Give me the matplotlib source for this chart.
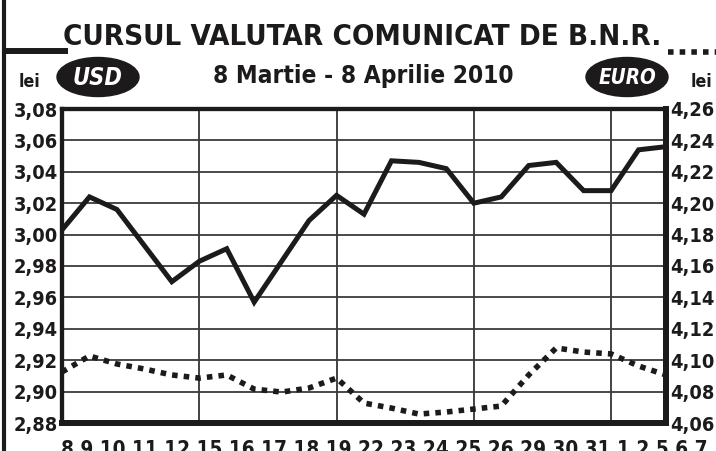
"""
BNR exchange rate chart (USD / EURO), 8 Martie - 8 Aprilie 2010.
"""
import os
import matplotlib
matplotlib.use("Agg")
import matplotlib.pyplot as plt
import matplotlib.font_manager as fm
from matplotlib.patches import Ellipse

# trading days shown on the x axis
day_labels = ["8", "9", "10", "11", "12", "15", "16", "17", "18", "19", "22", "23",
              "24", "25", "26", "29", "30", "31", "1", "2", "5", "6", "7"]
week_starts = ["15", "22", "29", "5"]

# lei per USD (left axis, solid line)
usd = [3.003, 3.024, 3.016, 2.993, 2.970, 2.983, 2.991, 2.957, 2.983, 3.009, 3.025,
       3.013, 3.047, 3.046, 3.042, 3.020, 3.024, 3.044, 3.046, 3.028, 3.028, 3.054, 3.056]

# lei per EURO (right axis, dotted line)
eur = [4.0925, 4.1027, 4.0976, 4.0944, 4.0906, 4.0886, 4.0906, 4.0816, 4.0797, 4.0823,
       4.0886, 4.0727, 4.0695, 4.0657, 4.0670, 4.0689, 4.0708, 4.0906, 4.1078, 4.1052,
       4.1040, 4.0963, 4.0906]

usd_ticks = [2.88, 2.90, 2.92, 2.94, 2.96, 2.98, 3.00, 3.02, 3.04, 3.06, 3.08]
eur_ticks = [4.06, 4.08, 4.10, 4.12, 4.14, 4.16, 4.18, 4.20, 4.22, 4.24, 4.26]

INK = "#1c1a1a"


def pick_font(names):
    # the print original uses a bold condensed grotesque, take the closest one installed
    for name in names:
        for f in fm.fontManager.ttflist:
            if os.path.basename(f.fname) == name:
                return fm.FontProperties(fname=f.fname)
    return None


bold = pick_font(["LiberationSansNarrow-Bold.ttf", "DejaVuSansCondensed-Bold.ttf",
                  "LiberationSans-Bold.ttf"]) or fm.FontProperties(weight="bold")
bold_it = pick_font(["LiberationSansNarrow-BoldItalic.ttf",
                     "DejaVuSansCondensed-BoldOblique.ttf",
                     "LiberationSans-BoldItalic.ttf"]) or fm.FontProperties(weight="bold",
                                                                            style="italic")


def comma(v):
    return f"{v:.2f}".replace(".", ",")


fig = plt.figure(figsize=(7.16, 4.51), dpi=100)
W, H = 716, 451
renderer = fig.canvas.get_renderer()


def fit(t, width):
    """Scale a text's size so that it spans the given width in pixels."""
    w = t.get_window_extent(renderer).width
    t.set_fontsize(t.get_fontsize() * width / w)
    return t


ax = fig.add_axes([62 / W, 1 - 423 / H, (666 - 62) / W, (423 - 109) / H])
x = list(range(len(day_labels)))

ax.set_xlim(0, len(day_labels) - 1)
ax.set_ylim(usd_ticks[0], usd_ticks[-1])
ax.set_yticks(usd_ticks)
ax.set_yticklabels([comma(v) for v in usd_ticks])
ax.set_xticks([])
ax.grid(axis="y", color="#3a3a3a", linewidth=1.3)
for d in week_starts:
    ax.axvline(day_labels.index(d), color="#111111", linewidth=1.1, zorder=1)

ax.plot(x, usd, color=INK, linewidth=3.6, solid_joinstyle="miter", zorder=3)

ax2 = ax.twinx()
ax2.set_ylim(eur_ticks[0], eur_ticks[-1])
ax2.set_yticks(eur_ticks)
ax2.set_yticklabels([comma(v) for v in eur_ticks])
ax2.plot(x, eur, color=INK, linewidth=4.0, linestyle=(0, (1, 1.1)),
         dash_capstyle="butt", zorder=3)

# overlay in pixel coordinates for the header, legend keys and day labels
ov = fig.add_axes([0, 0, 1, 1], zorder=-1)
ov.set_xlim(0, W)
ov.set_ylim(H, 0)
ov.axis("off")

# tick label size: "3,08" is about 44 px wide in the original
probe = ov.text(0, 0, comma(usd_ticks[-1]), fontproperties=bold, fontsize=15)
fit(probe, 44)
tick_size = probe.get_fontsize()
probe.remove()

for a in (ax, ax2):
    for side, lw in (("left", 3.0), ("top", 3.0), ("bottom", 4.3), ("right", 4.3)):
        a.spines[side].set_linewidth(lw)
        a.spines[side].set_color(INK)
    a.tick_params(axis="y", length=0, pad=3, labelcolor=INK)
    for lab in a.get_yticklabels():
        lab.set_fontproperties(bold)
        lab.set_fontsize(tick_size)

ov.plot([4, 4], [0, H], color=INK, linewidth=3.0)
fit(ov.text(362, 45, "CURSUL VALUTAR COMUNICAT DE B.N.R.", ha="center", va="baseline",
            fontproperties=bold, fontsize=25, color=INK), 600)
fit(ov.text(363, 83, "8 Martie - 8 Aprilie 2010", ha="center", va="baseline",
            fontproperties=bold, fontsize=19, color=INK), 300)

# legend keys
ov.plot([6, 68], [51, 51], color=INK, linewidth=4.3, solid_capstyle="butt")
ov.plot([668, 716], [52, 52], color=INK, linewidth=4.0, linestyle=(0, (1, 1.1)),
        dash_capstyle="butt")
for cx in (30, 701):
    fit(ov.text(cx, 87, "lei", ha="center", va="baseline", fontproperties=bold,
                fontsize=15, color=INK), 22)
ov.add_patch(Ellipse((98, 77), 82, 39, color=INK))
fit(ov.text(98, 78, "USD", ha="center", va="center", fontproperties=bold_it,
            fontsize=18, color="white"), 50)
ov.add_patch(Ellipse((627, 77), 82, 39, color=INK))
fit(ov.text(627, 78, "EURO", ha="center", va="center", fontproperties=bold_it,
            fontsize=18, color="white"), 58)

# day labels, packed as in the printed original (cut off at the bottom)
fit(ov.text(384, 456, " ".join(day_labels), ha="center", va="baseline",
            fontproperties=bold, fontsize=15, color=INK, clip_on=False), 646)

fig.savefig("out.png", dpi=100)
plt.close("all")
